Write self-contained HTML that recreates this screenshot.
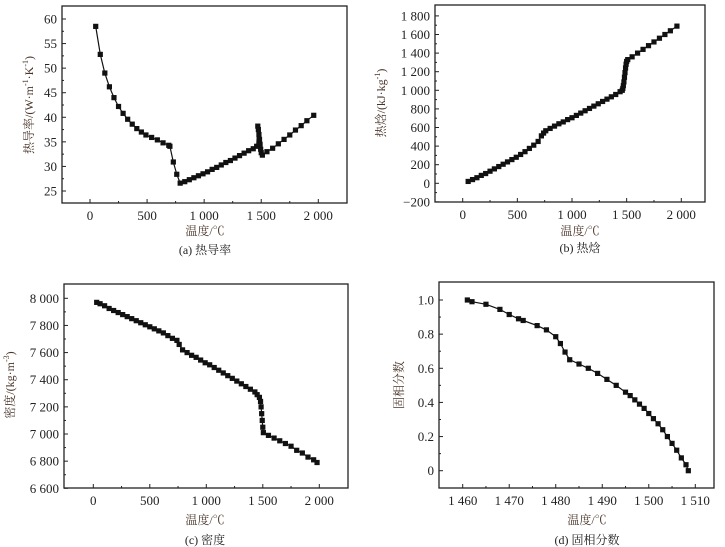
<!DOCTYPE html>
<html><head><meta charset="utf-8">
<style>
body{margin:0;background:#fff;}
svg{display:block;font-family:"Liberation Serif","Noto Serif CJK SC",serif;}
.tk{font-size:13px;fill:#222;}
.tt{font-size:12px;fill:#4a3428;}
.cap{font-size:12px;fill:#222;}
</style></head><body>
<svg id="fig" width="725" height="547" viewBox="0 0 725 547"></svg>
<script>
// (a) thermal conductivity
const aTemp=[50,90,130,170,210,250,290,330,370,410,450,490,540,590,640,690,700,730,760,790,830,870,910,950,990,1030,1070,1110,1150,1190,1230,1270,1310,1350,1390,1430,1460,1470,1475,1480,1485,1490,1495,1500,1510,1550,1600,1650,1700,1750,1800,1850,1900,1960];
const aVal=[58.5,52.8,49,46.2,44,42.2,40.8,39.6,38.6,37.7,37,36.4,35.9,35.4,34.8,34.3,34.1,30.9,28.4,26.6,26.9,27.3,27.7,28.1,28.5,28.9,29.4,29.8,30.3,30.8,31.2,31.7,32.2,32.7,33.2,33.6,34.1,38.2,37.5,36.5,35.5,34.5,33.5,32.8,32.3,33.0,33.7,34.6,35.5,36.4,37.4,38.3,39.3,40.4];
const aXTicks=[0,500,1000,1500,2000];
const aXLabels=["0","500","1 000","1 500","2 000"];
const aYTicks=[25,30,35,40,45,50,55,60];
const aYLabels=["25","30","35","40","45","50","55","60"];
// (b) enthalpy
const bTemp=[50,90,130,170,210,250,290,330,370,410,450,490,530,570,610,650,690,720,740,760,800,840,880,920,960,1000,1040,1080,1120,1160,1200,1240,1280,1320,1360,1400,1440,1460,1465,1470,1475,1480,1485,1490,1495,1500,1510,1550,1600,1650,1700,1750,1800,1850,1900,1960];
const bVal=[20,40,60,85,105,130,155,180,205,230,255,280,310,340,375,410,450,510,540,565,590,615,640,660,685,705,730,755,780,805,830,855,880,905,930,955,985,1000,1020,1050,1090,1140,1190,1240,1280,1310,1330,1360,1400,1440,1480,1520,1560,1600,1640,1690];
const bXTicks=[0,500,1000,1500,2000];
const bXLabels=["0","500","1 000","1 500","2 000"];
const bYTicks=[-200,0,200,400,600,800,1000,1200,1400,1600,1800];
const bYLabels=["−200","0","200","400","600","800","1 000","1 200","1 400","1 600","1 800"];
// (c) density
const cTemp=[30,60,100,140,180,220,260,300,340,380,420,460,500,540,580,620,660,700,740,760,790,830,870,910,950,990,1030,1070,1110,1150,1190,1230,1270,1310,1350,1390,1430,1450,1470,1480,1485,1490,1495,1500,1505,1550,1600,1650,1700,1750,1800,1850,1900,1950,1980];
const cVal=[7970,7960,7945,7925,7910,7895,7880,7865,7850,7835,7820,7805,7790,7775,7760,7745,7725,7705,7690,7660,7620,7600,7580,7565,7545,7525,7510,7490,7470,7450,7430,7410,7390,7370,7350,7330,7310,7290,7270,7240,7200,7150,7100,7050,7010,6990,6970,6950,6930,6910,6880,6860,6830,6810,6790];
const cXTicks=[0,500,1000,1500,2000];
const cXLabels=["0","500","1 000","1 500","2 000"];
const cYTicks=[6600,6800,7000,7200,7400,7600,7800,8000];
const cYLabels=["6 600","6 800","7 000","7 200","7 400","7 600","7 800","8 000"];
// (d) solid fraction
const dTemp=[1461,1462,1465,1468,1470,1472,1473,1476,1478,1480,1481,1482,1483,1485,1487,1489,1491,1493,1495,1496,1497,1498,1499,1500,1501,1502,1503,1504,1505,1506,1507,1508,1508.5];
const dVal=[1.0,0.99,0.975,0.945,0.915,0.89,0.88,0.85,0.825,0.785,0.745,0.695,0.65,0.625,0.6,0.57,0.535,0.5,0.46,0.44,0.415,0.39,0.365,0.335,0.305,0.275,0.24,0.2,0.16,0.12,0.075,0.035,0];
const dXTicks=[1460,1470,1480,1490,1500,1510];
const dXLabels=["1 460","1 470","1 480","1 490","1 500","1 510"];
const dYTicks=[0,0.2,0.4,0.6,0.8,1.0];
const dYLabels=["0","0.2","0.4","0.6","0.8","1.0"];

const NS="http://www.w3.org/2000/svg";
const svg=document.getElementById('fig');
function mk(tag,attrs,parent,text){const e=document.createElementNS(NS,tag);for(const k in attrs)e.setAttribute(k,attrs[k]);if(text!==undefined)e.textContent=text;parent.appendChild(e);return e;}

function chart(o){
  const g=mk('g',{},svg);
  
  
  const X=v=>o.x0px+(v-o.x0)/(o.x1-o.x0)*(o.x1px-o.x0px);
  const Y=v=>o.y0px+(v-o.y0)/(o.y1-o.y0)*(o.y1px-o.y0px);
  const f=o.frame;
  const fr=mk('rect',{x:f[0],y:f[1],width:f[2]-f[0],height:f[3]-f[1],fill:'none',stroke:'#222','stroke-width':1.3},g);
  
  
  // x ticks
  o.xt.forEach((t,i)=>{
    const x=X(t);
    mk('line',{x1:x,y1:f[3],x2:x,y2:f[3]-4,stroke:'#222'},g);
    if(i<o.xt.length-1){const xm=X((t+o.xt[i+1])/2);mk('line',{x1:xm,y1:f[3],x2:xm,y2:f[3]-2,stroke:'#222'},g);}
    const lb=mk('text',{x:x,y:f[3]+17,'text-anchor':'middle',class:'tk'},g,o.xl[i]);
    
    
  });
  o.yt.forEach((t,i)=>{
    const y=Y(t);
    mk('line',{x1:f[0],y1:y,x2:f[0]+4,y2:y,stroke:'#222'},g);
    if(i<o.yt.length-1){const ym=Y((t+o.yt[i+1])/2);mk('line',{x1:f[0],y1:ym,x2:f[0]+2,y2:ym,stroke:'#222'},g);}
    const lb=mk('text',{x:f[0]-5,y:y+4.5,'text-anchor':'end',class:'tk'},g,o.yl[i]);
    
    
  });
  const pts=o.xs.map((v,i)=>X(v).toFixed(1)+','+Y(o.ys[i]).toFixed(1)).join(' ');
  const ln=mk('polyline',{points:pts,fill:'none',stroke:'#111','stroke-width':1.2},g);
  
  
  o.xs.forEach((v,i)=>{
    const m=mk('rect',{x:X(v)-2.6,y:Y(o.ys[i])-2.6,width:5.2,height:5.2,fill:'#111'},g);
    
    
  });
  const yt=mk('text',{x:o.ytx,y:o.yty,'text-anchor':'middle',class:'tt',transform:`rotate(-90 ${o.ytx} ${o.yty})`},g);
  
  
  yt.innerHTML=o.ytitle;
  const xt=mk('text',{x:o.xtx,y:o.xty,'text-anchor':'middle',class:'tt'},g,'温度/℃');
  
  
  const cp=mk('text',{x:o.xtx,y:o.capy,'text-anchor':'middle',class:'cap'},g,o.cap);
  
  
}

chart({name:'chart-thermal-conductivity',frame:[62,6,347,203],x0:0,x1:2000,x0px:90,x1px:318.3,y0:25,y1:60,y0px:191,y1px:19,
  xt:aXTicks,xl:aXLabels,yt:aYTicks,yl:aYLabels,xs:aTemp,ys:aVal,
  ytx:33,yty:105,ytitle:'热导率/(W·m<tspan dy="-5" font-size="8">-1</tspan><tspan dy="5">·K</tspan><tspan dy="-5" font-size="8">-1</tspan><tspan dy="5">)</tspan>',
  xtx:205,xty:235,capy:254,cap:'(a) 热导率'});
chart({name:'chart-enthalpy',frame:[435,5,705,202],x0:0,x1:2000,x0px:462.7,x1px:681.3,y0:0,y1:1800,y0px:183.3,y1px:15.9,
  xt:bXTicks,xl:bXLabels,yt:bYTicks,yl:bYLabels,xs:bTemp,ys:bVal,
  ytx:385,yty:103,ytitle:'热焓/(kJ·kg<tspan dy="-5" font-size="8">-1</tspan><tspan dy="5">)</tspan>',
  xtx:580,xty:235,capy:252,cap:'(b) 热焓'});
chart({name:'chart-density',frame:[64,284,348,488],x0:0,x1:2000,x0px:93.3,x1px:319.3,y0:6600,y1:8000,y0px:488.3,y1px:298.3,
  xt:cXTicks,xl:cXLabels,yt:cYTicks,yl:cYLabels,xs:cTemp,ys:cVal,
  ytx:14,yty:385,ytitle:'密度/(kg·m<tspan dy="-5" font-size="8">-3</tspan><tspan dy="5">)</tspan>',
  xtx:205,xty:524,capy:544,cap:'(c) 密度'});
chart({name:'chart-solid-fraction',frame:[439,282,714,488],x0:1460,x1:1510,x0px:462.7,x1px:695.3,y0:0,y1:1,y0px:470.7,y1px:300,
  xt:dXTicks,xl:dXLabels,yt:dYTicks,yl:dYLabels,xs:dTemp,ys:dVal,
  ytx:403,yty:385,ytitle:'固相分数',
  xtx:587,xty:524,capy:544,cap:'(d) 固相分数'});
</script>
</body></html>
